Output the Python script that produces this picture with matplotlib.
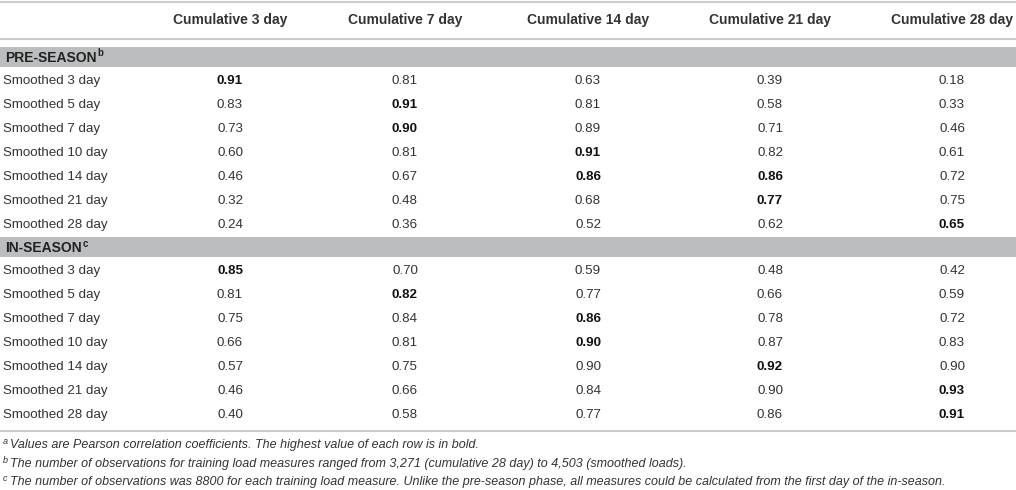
import matplotlib.pyplot as plt
from matplotlib.patches import Rectangle

plt.rcParams['font.family'] = ['Liberation Sans', 'DejaVu Sans']

columns = ["Cumulative 3 day", "Cumulative 7 day", "Cumulative 14 day",
           "Cumulative 21 day", "Cumulative 28 day"]
row_labels = ["Smoothed 3 day", "Smoothed 5 day", "Smoothed 7 day", "Smoothed 10 day",
              "Smoothed 14 day", "Smoothed 21 day", "Smoothed 28 day"]

pre_season = [
    [0.91, 0.81, 0.63, 0.39, 0.18],
    [0.83, 0.91, 0.81, 0.58, 0.33],
    [0.73, 0.90, 0.89, 0.71, 0.46],
    [0.60, 0.81, 0.91, 0.82, 0.61],
    [0.46, 0.67, 0.86, 0.86, 0.72],
    [0.32, 0.48, 0.68, 0.77, 0.75],
    [0.24, 0.36, 0.52, 0.62, 0.65],
]
# bold cells (column index per row, one row has two)
pre_bold = [[0], [1], [1], [2], [2, 3], [3], [4]]

in_season = [
    [0.85, 0.70, 0.59, 0.48, 0.42],
    [0.81, 0.82, 0.77, 0.66, 0.59],
    [0.75, 0.84, 0.86, 0.78, 0.72],
    [0.66, 0.81, 0.90, 0.87, 0.83],
    [0.57, 0.75, 0.90, 0.92, 0.90],
    [0.46, 0.66, 0.84, 0.90, 0.93],
    [0.40, 0.58, 0.77, 0.86, 0.91],
]
in_bold = [[0], [1], [2], [2], [3], [4], [4]]

sections = [("PRE-SEASON", "b", pre_season, pre_bold),
            ("IN-SEASON", "c", in_season, in_bold)]

footnotes = [
    ("a", "Values are Pearson correlation coefficients. The highest value of each row is in bold."),
    ("b", "The number of observations for training load measures ranged from 3,271 (cumulative 28 day) to 4,503 (smoothed loads)."),
    ("c", "The number of observations was 8800 for each training load measure. Unlike the pre-season phase, all measures could be calculated from the first day of the in-season."),
]

W, H = 1016, 490
fig = plt.figure(figsize=(W / 100, H / 100), dpi=100)
ax = fig.add_axes([0, 0, 1, 1])
ax.set_xlim(0, W)
ax.set_ylim(H, 0)
ax.axis('off')
renderer = fig.canvas.get_renderer()

txt = '#333333'
line_c = '#cccccc'
band_c = '#bcbdbf'
col_x = [230, 405, 588, 770, 952]
fs = 9.6

# header
ax.plot([0, W], [2.5, 2.5], color=line_c, lw=1.5)
for x, c in zip(col_x, columns):
    ax.text(x, 20, c, ha='center', va='center', fontsize=10, fontweight='bold', color=txt)
ax.plot([0, W], [39.5, 39.5], color=line_c, lw=1.5)

band_top = [47, 237]
for (name, sup, data, bold), top in zip(sections, band_top):
    ax.add_patch(Rectangle((0, top), W, 20, facecolor=band_c, edgecolor='none'))
    t = ax.text(5, top + 10.5, name, ha='left', va='center', fontsize=10,
                fontweight='bold', color='#222222')
    bb = t.get_window_extent(renderer)
    ax.text(bb.x1 + 1, top + 6.5, sup, ha='left', va='center', fontsize=7,
            fontweight='bold', color='#222222')
    y = top + 34
    for lab, vals, b in zip(row_labels, data, bold):
        ax.text(3, y, lab, ha='left', va='center', fontsize=fs, color=txt)
        for j, v in enumerate(vals):
            ax.text(col_x[j], y, "%.2f" % v, ha='center', va='center', fontsize=fs,
                    fontweight='bold' if j in b else 'normal',
                    color='#111111' if j in b else txt)
        y += 24

ax.plot([0, W], [431, 431], color=line_c, lw=1.5)

fy = 445
for sup, note in footnotes:
    ax.text(3, fy - 3.5, sup, ha='left', va='center', fontsize=6.5, style='italic', color=txt)
    ax.text(10, fy, note, ha='left', va='center', fontsize=9, style='italic', color=txt)
    fy += 18.5

fig.savefig("out.png", dpi=100)
